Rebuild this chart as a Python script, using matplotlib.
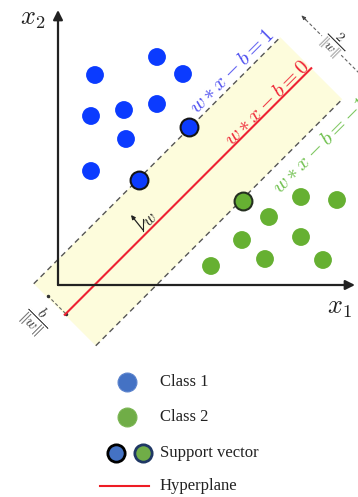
import matplotlib
matplotlib.use("Agg")
import matplotlib.pyplot as plt
import numpy as np

plt.rcParams['mathtext.fontset'] = 'cm'

# ---- data (feature coordinates: x1 right, x2 up, origin at axes corner) ----
class1_x1 = [37, 99, 125, 33, 66, 99, 68, 33]
class1_x2 = [210, 228, 211, 169, 175, 181, 146, 114]
sv1_x1 = [131, 81]
sv1_x2 = [158, 105]
sv2_x1 = [185]
sv2_x2 = [84]
class2_x1 = [243, 279, 211, 243, 184, 207, 153, 265]
class2_x2 = [88, 85, 68, 48, 45, 26, 19, 25]

# hyperplane model  w.x - b = k   with w = (-1, 1)/scale
w_scale = 62.0
b_val = -36.5 / 62.0
levels = [1, 0, -1]
level_labels = [r'$w * x - b = 1$', r'$w * x - b = 0$', r'$w * x - b = -1$']
s_start, s_end = -23, 470          # extent along the hyperplane (x1 + x2)

legend_labels = ['Class 1', 'Class 2', 'Support vector', 'Hyperplane']

# ---- figure ----
W, H = 358, 497
ox, oy = 58, 285                   # pixel position of the origin
fig = plt.figure(figsize=(W / 100, H / 100), dpi=100)
ax = fig.add_axes([0, 0, 1, 1])
ax.set_xlim(-ox, W - ox)
ax.set_ylim(-(H - oy), oy)
ax.axis('off')


def P(px, py):
    return px - ox, oy - py


def offset(k):
    return w_scale * (b_val + k)


def pt(S, C):
    return (S - C) / 2.0, (S + C) / 2.0


c_up, c_mid, c_lo = offset(1), offset(0), offset(-1)

# band
corners = [pt(s_start, c_up), pt(s_end, c_up), pt(s_end, c_lo), pt(s_start, c_lo)]
ax.add_patch(plt.Polygon(corners, closed=True, facecolor='#fdfcdc',
                         edgecolor='none', zorder=1))

# margin lines
for c in (c_up, c_lo):
    a, b = pt(s_start, c), pt(s_end, c)
    ax.plot([a[0], b[0]], [a[1], b[1]], color='#555555', lw=1.0,
            dashes=(4, 3), zorder=2)
a, b = pt(s_start, c_mid), pt(s_end, c_mid)
ax.plot([a[0], b[0]], [a[1], b[1]], color='#ee2233', lw=1.5, zorder=3)

# axes arrows
ax.annotate('', xy=(0, 275), xytext=(0, 0),
            arrowprops=dict(arrowstyle='-|>', color='#222222', lw=1.6,
                            mutation_scale=14, shrinkA=0, shrinkB=0), zorder=4)
ax.annotate('', xy=(297, 0), xytext=(0, 0),
            arrowprops=dict(arrowstyle='-|>', color='#222222', lw=1.6,
                            mutation_scale=14, shrinkA=0, shrinkB=0), zorder=4)
ax.text(*P(33, 18), r'$x_2$', fontsize=19, ha='center', va='center', color='#222222')
ax.text(*P(339, 307), r'$x_1$', fontsize=19, ha='center', va='center', color='#222222')

# points
ax.scatter(class1_x1, class1_x2, s=165, color='#0b3bff', edgecolors='none', zorder=5)
ax.scatter(class2_x1, class2_x2, s=165, color='#66b032', edgecolors='none', zorder=5)
ax.scatter(sv1_x1, sv1_x2, s=165, color='#0b3bff', edgecolors='#151515',
           linewidths=1.5, zorder=6)
ax.scatter(sv2_x1, sv2_x2, s=165, color='#66b032', edgecolors='#253020',
           linewidths=1.5, zorder=6)

# line labels
label_colors = ['#4b4cf0', '#ee2233', '#6cbf4a']
label_pos = [P(232, 71), P(267, 103), P(320, 145)]
for txt, col, pos in zip(level_labels, label_colors, label_pos):
    ax.text(pos[0], pos[1], txt, color=col, fontsize=15, rotation=45,
            rotation_mode='anchor', ha='center', va='center', zorder=7)

# w normal arrow
ax.annotate('', xy=P(131, 215), xytext=P(143, 230),
            arrowprops=dict(arrowstyle='-|>', color='#222222', lw=0.9,
                            mutation_scale=6, shrinkA=0, shrinkB=0), zorder=7)
ax.plot(*zip(P(143, 219), P(143, 231)), color='#222222', lw=0.8, zorder=7)
ax.text(*P(150, 219), r'$w$', fontsize=12, rotation=45, rotation_mode='anchor',
        ha='center', va='center', color='#222222', zorder=7)

# 2/||w|| marker
S2 = 513
a, b = pt(S2, c_up), pt(S2, c_lo)
ax.plot([a[0], b[0]], [a[1], b[1]], color='#666666', lw=0.8, dashes=(3, 2), zorder=2)
ax.annotate('', xy=a, xytext=(a[0] + 4, a[1] - 4),
            arrowprops=dict(arrowstyle='-|>', color='#444444', lw=0.8,
                            mutation_scale=5, shrinkA=0, shrinkB=0))
ax.text(*P(334, 43), r'$\dfrac{2}{\|w\|}$', fontsize=10, rotation=-45,
        rotation_mode='anchor', ha='center', va='center', color='#333333',
        zorder=7, bbox=dict(facecolor='white', edgecolor='none', pad=0.5))

# b/||w|| marker
Sb = -21
a, b = pt(Sb, 0), pt(Sb, c_mid)
ax.plot([a[0], b[0]], [a[1], b[1]], color='#666666', lw=0.8, dashes=(3, 2), zorder=2)
ax.plot([a[0], b[0]], [a[1], b[1]], 'o', color='#333333', ms=1.5, zorder=2)
ax.text(*P(36, 319), r'$\dfrac{b}{\|w\|}$', fontsize=11, rotation=-45,
        rotation_mode='anchor', ha='center', va='center', color='#333333')

# legend
leg_font = dict(fontsize=12, family='Liberation Serif', color='#222222',
                ha='left', va='center')
rows_y = [382, 417, 453, 486]
tx = 160
ax.scatter(*P(127, rows_y[0]), s=185, color='#4472c4', edgecolors='#5a82cc',
           linewidths=0.8, zorder=5)
ax.scatter(*P(127, rows_y[1]), s=185, color='#70ad47', edgecolors='#7ab552',
           linewidths=0.8, zorder=5)
ax.scatter(*P(116, rows_y[2]), s=155, color='#4472c4', edgecolors='#000000',
           linewidths=2.0, zorder=5)
ax.scatter(*P(143, rows_y[2]), s=155, color='#70ad47', edgecolors='#1f3864',
           linewidths=2.0, zorder=5)
ax.plot(*zip(P(100, rows_y[3]), P(149, rows_y[3])), color='#ee1c24', lw=1.5)
for lab, yy in zip(legend_labels, rows_y):
    ax.text(*P(tx, yy), lab, **leg_font)

fig.savefig('out.png', dpi=100)
